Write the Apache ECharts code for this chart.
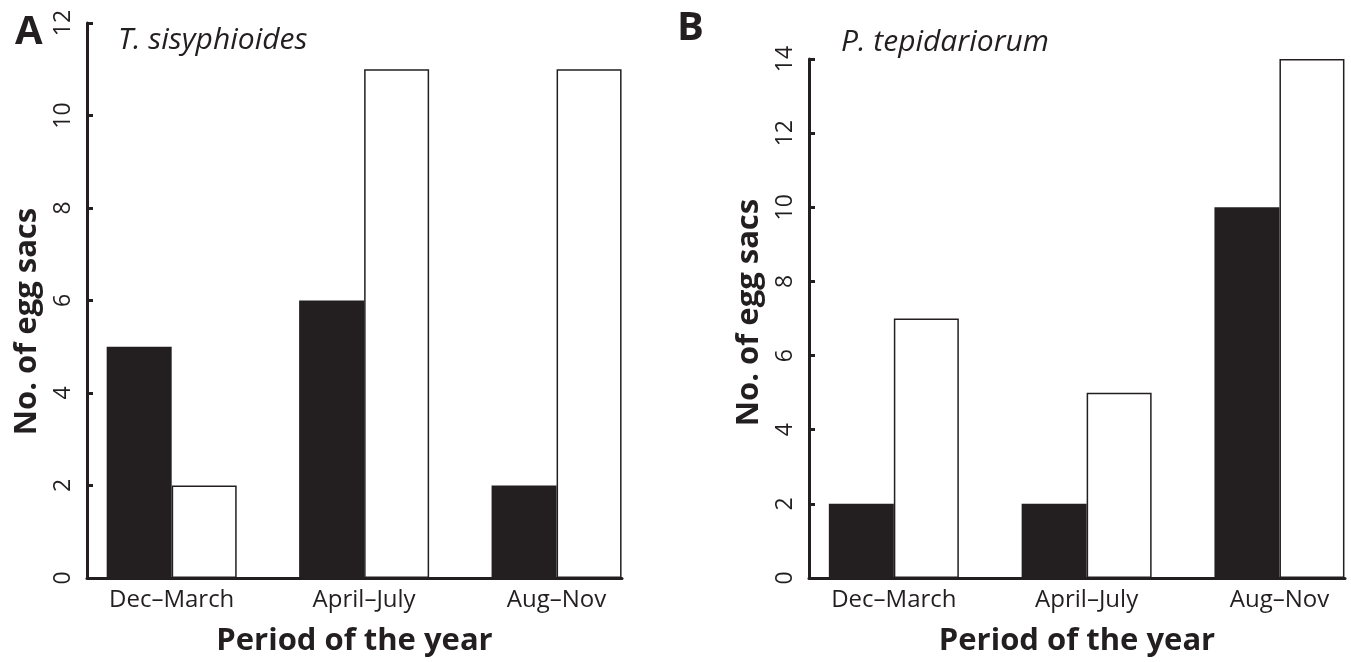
<!DOCTYPE html>
<html>
<head>
<meta charset="utf-8">
<script src="https://cdn.jsdelivr.net/npm/echarts@6/dist/echarts.min.js"></script>
<style>
  html, body { margin: 0; height: 100%; background: #fff; }
  #chart { width: 1351px; height: 662px; }
</style>
</head>
<body>
<div id="chart"></div>
<script>
  // data
  const periods = ['Dec\u2013March', 'April\u2013July', 'Aug\u2013Nov'];
  const periodPos = [0, 1, 2];
  const sisyphBlack = [5, 6, 2];
  const sisyphWhite = [2, 11, 11];
  const tepidBlack = [2, 2, 10];
  const tepidWhite = [7, 5, 14];
  const yTicksA = { min: 0, max: 12, step: 2 };
  const yTicksB = { min: 0, max: 14, step: 2 };

  const ink = '#231f20';
  const font = 'Open Sans';

  const chart = echarts.init(document.getElementById('chart'), null, { renderer: 'canvas' });

  const pairs = (vals) => vals.map((v, i) => [periodPos[i], v]);

  function xAxis(gridIndex) {
    return {
      type: 'value',
      gridIndex: gridIndex,
      min: -0.44,
      max: 2.34,
      name: 'Period of the year',
      nameLocation: 'middle',
      nameGap: 48,
      nameTextStyle: { fontFamily: font, fontWeight: 'bold', fontSize: 31, color: ink },
      splitLine: { show: false },
      axisTick: { show: false },
      axisLine: { show: true, onZero: false, lineStyle: { color: ink, width: 3 } },
      axisLabel: {
        customValues: periodPos,
        formatter: (v) => periods[Math.round(v)],
        fontFamily: font, fontSize: 24, color: ink, margin: 10
      }
    };
  }

  function yAxis(gridIndex, t, pad) {
    return {
      type: 'value',
      gridIndex: gridIndex,
      min: t.min,
      max: t.max,
      interval: t.step,
      name: 'No. of egg sacs',
      nameLocation: 'middle',
      nameGap: 44,
      nameTextStyle: { fontFamily: font, fontWeight: 'bold', fontSize: 31, color: ink, padding: pad },
      splitLine: { show: false },
      axisLine: { show: true, onZero: false, lineStyle: { color: ink, width: 3 } },
      axisTick: { show: true, inside: true, length: 6, lineStyle: { color: ink, width: 3 } },
      axisLabel: { rotate: 90, fontFamily: font, fontSize: 23, color: ink, margin: 12 }
    };
  }

  function bars(idx, vals, filled) {
    return {
      type: 'bar',
      xAxisIndex: idx,
      yAxisIndex: idx,
      data: pairs(vals),
      barWidth: 65,
      barGap: '0%',
      silent: true,
      itemStyle: filled
        ? { color: ink }
        : { color: '#fff', borderColor: ink, borderWidth: 1.5 }
    };
  }

  const option = {
    animation: false,
    backgroundColor: '#fff',
    title: [
      { text: 'A', left: 10, top: 8, textStyle: { fontFamily: font, fontWeight: 'bold', fontSize: 40, color: ink } },
      { text: 'B', left: 672, top: 4, textStyle: { fontFamily: font, fontWeight: 'bold', fontSize: 40, color: ink } },
      { text: 'T. sisyphioides', left: 113, top: 20, textStyle: { fontFamily: font, fontStyle: 'italic', fontWeight: 'normal', fontSize: 30, color: ink } },
      { text: 'P. tepidariorum', left: 836, top: 22, textStyle: { fontFamily: font, fontStyle: 'italic', fontWeight: 'normal', fontSize: 30, color: ink } }
    ],
    grid: [
      { left: 87, top: 23, width: 535, height: 555 },
      { left: 809, top: 59, width: 536, height: 520 }
    ],
    xAxis: [xAxis(0), xAxis(1)],
    yAxis: [yAxis(0, yTicksA, [0, 42, 0, 0]), yAxis(1, yTicksB, [0, 0, 0, 12])],
    series: [
      bars(0, sisyphBlack, true),
      bars(0, sisyphWhite, false),
      bars(1, tepidBlack, true),
      bars(1, tepidWhite, false)
    ]
  };

  chart.setOption(option);
  window.addEventListener('resize', chart.resize);
</script>
</body>
</html>
